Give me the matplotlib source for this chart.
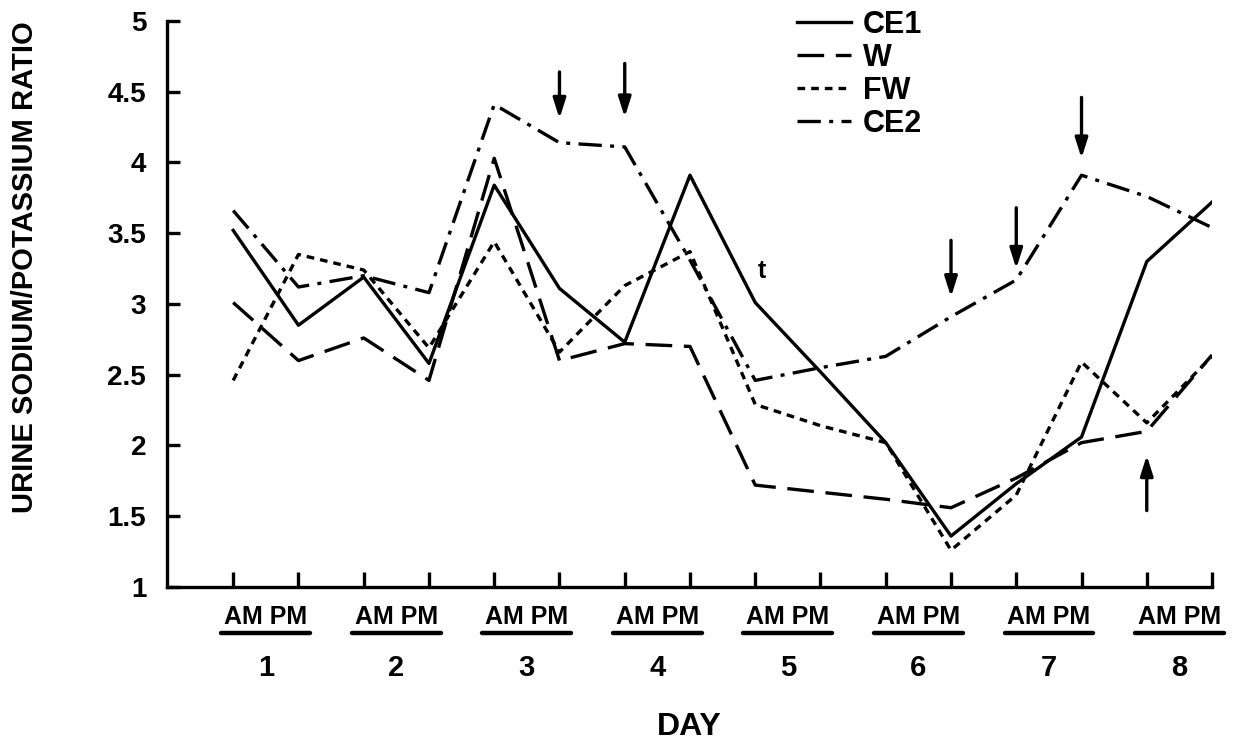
import numpy as np
import matplotlib.pyplot as plt
import matplotlib.transforms as mtransforms

# данные: 8 дней, по два замера (AM, PM)
days = ['1', '2', '3', '4', '5', '6', '7', '8']
ce1 = [3.52, 2.85, 3.19, 2.58, 3.84, 3.11, 2.73, 3.91,
       3.01, 2.52, 2.02, 1.36, 1.73, 2.06, 3.30, 3.72]
w = [3.01, 2.60, 2.76, 2.46, 4.03, 2.60, 2.72, 2.70,
     1.72, 1.67, 1.62, 1.56, 1.77, 2.02, 2.10, 2.64]
fw = [2.46, 3.35, 3.24, 2.69, 3.44, 2.66, 3.13, 3.37,
      2.29, 2.14, 2.02, 1.26, 1.65, 2.59, 2.16, 2.63]
ce2 = [3.66, 3.12, 3.20, 3.08, 4.41, 4.14, 4.11, 3.31,
       2.46, 2.55, 2.63, 2.91, 3.17, 3.91, 3.76, 3.54]

# стрелки: (индекс замера, начало, конец)
arrows = [(5, 4.64, 4.31), (6, 4.70, 4.32), (11, 3.45, 3.05),
          (12, 3.68, 3.25), (13, 4.46, 4.03), (14, 1.54, 1.93)]

plt.rcParams['font.family'] = ['Liberation Sans', 'DejaVu Sans']
plt.rcParams['font.weight'] = 'bold'

fig = plt.figure(figsize=(12.35, 7.47), dpi=100)
ax = fig.add_axes([0.1352, 0.2142, 0.9814 - 0.1352, 0.9719 - 0.2142])

x = np.arange(len(ce1))
lw = 2.4
ax.plot(x, ce1, color='black', lw=lw, label='CE1')
ax.plot(x, w, color='black', lw=lw, ls=(0, (8, 3.5)), label='W')
ax.plot(x, fw, color='black', lw=lw, ls=(0, (2.3, 1.8)), label='FW')
ax.plot(x, ce2, color='black', lw=lw, ls=(0, (7, 2.5, 1.2, 2.5)), label='CE2')

for i, y0, y1 in arrows:
    ax.annotate('', xy=(i, y1), xytext=(i, y0),
                arrowprops=dict(arrowstyle='-|>,head_length=1.2,head_width=0.38',
                                color='black', lw=2.4, shrinkA=0, shrinkB=0))

ax.text(8.1, 3.23, 't', fontsize=18, fontweight='bold', ha='center', va='center')

ax.set_xlim(-1.015, 15)
ax.set_ylim(1, 5)
ax.set_yticks([1, 1.5, 2, 2.5, 3, 3.5, 4, 4.5, 5])
ax.set_yticklabels(['1', '1.5', '2', '2.5', '3', '3.5', '4', '4.5', '5'])
ax.set_xticks(x)
ax.set_xticklabels([])
ax.tick_params(axis='both', direction='in', width=2.4)
ax.tick_params(axis='y', length=9, pad=15, labelsize=20)
ax.tick_params(axis='x', length=11)
for s in ['top', 'right']:
    ax.spines[s].set_visible(False)
for s in ['left', 'bottom']:
    ax.spines[s].set_linewidth(2.4)

# подписи AM PM, подчеркивание, номер дня
trans = mtransforms.blended_transform_factory(ax.transData, ax.transAxes)
for k, d in enumerate(days):
    c = 2 * k + 0.5
    ax.text(c, -0.053, 'AM PM', transform=trans, ha='center', va='center',
            fontsize=18, fontweight='bold')
    ax.plot([c - 0.68, c + 0.68], [-0.081, -0.081], transform=trans,
            color='black', lw=3.2, clip_on=False, solid_capstyle='round')
    ax.text(c, -0.143, d, transform=trans, ha='center', va='center',
            fontsize=21, fontweight='bold')

ax.text(0.5, -0.247, 'DAY', transform=ax.transAxes, ha='center', va='center',
        fontsize=23, fontweight='bold')
fig.text(0.02, 0.643, 'URINE SODIUM/POTASSIUM RATIO', rotation=90,
         ha='center', va='center', fontsize=21, fontweight='bold')

ax.legend(loc='upper left', bbox_to_anchor=(0.603, 1.02), frameon=False,
          fontsize=22, handlelength=1.75, handletextpad=0.4,
          labelspacing=0.1, borderpad=0, borderaxespad=0)

fig.savefig('out.png', dpi=100)
